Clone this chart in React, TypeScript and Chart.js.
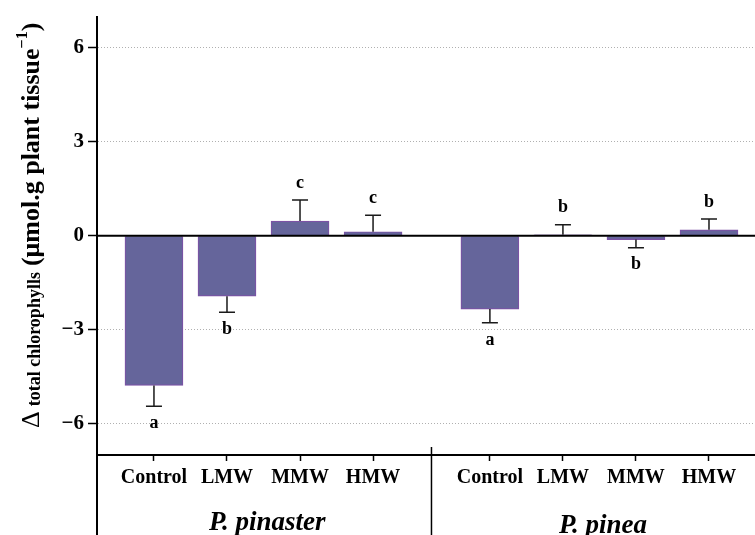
import React, { useEffect, useRef } from 'react';
import { Chart, registerables } from 'chart.js';

Chart.register(...registerables);

// ---- data ----
const categories = ['Control', 'LMW', 'MMW', 'HMW'];
const species = ['P. pinaster', 'P. pinea'];
const pinasterMeans = [-4.78, -1.93, 0.47, 0.13];
const pinasterErrors = [0.66, 0.51, 0.67, 0.53];
const pinasterLetters = ['a', 'b', 'c', 'c'];
const pineaMeans = [-2.34, 0.03, -0.12, 0.19];
const pineaErrors = [0.44, 0.32, 0.26, 0.35];
const pineaLetters = ['a', 'b', 'b', 'b'];
const yTicks = [-6, -3, 0, 3, 6];
const titleDelta = 'Δ';
const titleSub = 'total chlorophylls';
const titleMain = '(μmol.g plant tissue';
const titleSup = '−1';
const titleEnd = ')';

// ---- layout / style ----
const GROUP_STEP = 4.6;
const X_MIN = 0.22;
const X_MAX = 9.23;
const Y_MIN = -7;
const Y_MAX = 7;
const SERIF = '"Liberation Serif", "Times New Roman", serif';
const BAR_FILL = '#65659b';
const BAR_EDGE = '#7b52a5';

const groups = [
  { name: species[0], means: pinasterMeans, errors: pinasterErrors, letters: pinasterLetters },
  { name: species[1], means: pineaMeans, errors: pineaErrors, letters: pineaLetters },
];
const posOf = (g: number, i: number) => 1 + g * GROUP_STEP + i;
const tickPositions: number[] = [];
const tickNames: string[] = [];
groups.forEach((_, gi) =>
  categories.forEach((c, i) => {
    tickPositions.push(posOf(gi, i));
    tickNames.push(c);
  })
);

const fmt = (v: number) => (v < 0 ? '−' + Math.abs(v) : String(v));

const decor = {
  id: 'decor',
  afterDatasetsDraw(chart: any) {
    const { ctx, chartArea } = chart;
    const x = chart.scales.x;
    const y = chart.scales.y;
    ctx.save();
    // zero line
    const y0 = y.getPixelForValue(0);
    ctx.strokeStyle = '#000';
    ctx.lineWidth = 2;
    ctx.beginPath();
    ctx.moveTo(chartArea.left, y0);
    ctx.lineTo(chartArea.right, y0);
    ctx.stroke();
    // error bars + letters
    groups.forEach((g, gi) =>
      g.means.forEach((m, i) => {
        const px = x.getPixelForValue(posOf(gi, i));
        const dir = m >= 0 ? 1 : -1;
        const yBar = y.getPixelForValue(m);
        const yEnd = y.getPixelForValue(m + dir * g.errors[i]);
        ctx.strokeStyle = '#1a1a1a';
        ctx.lineWidth = 1.5;
        ctx.beginPath();
        ctx.moveTo(px, yBar);
        ctx.lineTo(px, yEnd);
        ctx.moveTo(px - 8, yEnd);
        ctx.lineTo(px + 8, yEnd);
        ctx.stroke();
        ctx.fillStyle = '#000';
        ctx.font = `bold 18px ${SERIF}`;
        ctx.textAlign = 'center';
        ctx.textBaseline = 'middle';
        ctx.fillText(g.letters[i], px, yEnd - dir * 17);
      })
    );
    ctx.restore();
  },
  afterDraw(chart: any) {
    const { ctx, chartArea } = chart;
    const x = chart.scales.x;
    ctx.save();
    ctx.strokeStyle = '#000';
    // y-axis extension below the x axis
    ctx.lineWidth = 2;
    ctx.beginPath();
    ctx.moveTo(chartArea.left, chartArea.bottom);
    ctx.lineTo(chartArea.left, 535);
    ctx.stroke();
    // group separator
    const sepX = x.getPixelForValue((posOf(0, 3) + posOf(1, 0)) / 2);
    ctx.lineWidth = 1.5;
    ctx.beginPath();
    ctx.moveTo(sepX, chartArea.bottom - 8);
    ctx.lineTo(sepX, 535);
    ctx.stroke();
    // species labels
    ctx.fillStyle = '#000';
    ctx.font = `italic bold 27px ${SERIF}`;
    ctx.textAlign = 'center';
    ctx.textBaseline = 'alphabetic';
    groups.forEach((g, gi) => {
      const cx = x.getPixelForValue(posOf(gi, 1.55));
      ctx.fillText(g.name, cx, gi === 0 ? 530 : 533);
    });
    // y title (rotated, mixed fonts), starting at the bottom
    const parts = [
      { text: titleDelta, font: `26px ${SERIF}`, dy: 0, gap: 5 },
      { text: titleSub, font: `bold 18px ${SERIF}`, dy: 1, gap: 6 },
      { text: titleMain, font: `bold 26px ${SERIF}`, dy: 0, gap: 0 },
      { text: titleSup, font: `bold 16px ${SERIF}`, dy: -12, gap: 0 },
      { text: titleEnd, font: `bold 26px ${SERIF}`, dy: 0, gap: 0 },
    ];
    ctx.translate(39, 428);
    ctx.rotate(-Math.PI / 2);
    ctx.textAlign = 'left';
    let u = 0;
    parts.forEach((p) => {
      ctx.font = p.font;
      ctx.fillText(p.text, u, p.dy);
      u += ctx.measureText(p.text).width + p.gap;
    });
    ctx.restore();
  },
};

export default function App() {
  const ref = useRef<HTMLCanvasElement | null>(null);
  useEffect(() => {
    if (!ref.current) return;
    const chart = new Chart(ref.current, {
      type: 'bar',
      data: {
        datasets: groups.map((g, gi) => ({
          label: g.name,
          data: g.means.map((m, i) => ({ x: posOf(gi, i), y: m })),
          backgroundColor: BAR_FILL,
          borderColor: BAR_EDGE,
          borderWidth: 1.2,
          barThickness: 58,
          grouped: false,
        })),
      },
      options: {
        animation: false,
        responsive: false,
        layout: { padding: { top: 14, left: 0, right: 0, bottom: 0 } },
        plugins: { legend: { display: false }, tooltip: { enabled: false } },
        scales: {
          x: {
            type: 'linear',
            offset: false,
            min: X_MIN,
            max: X_MAX,
            afterBuildTicks: (s: any) => {
              s.ticks = tickPositions.map((v) => ({ value: v }));
            },
            afterFit: (s: any) => {
              s.height = 80;
            },
            ticks: {
              autoSkip: false,
              maxRotation: 0,
              padding: 5,
              color: '#000',
              font: { family: SERIF, size: 20, weight: 'bold' },
              callback: (v: any) => {
                const k = tickPositions.findIndex((p) => Math.abs(p - v) < 1e-6);
                return k >= 0 ? tickNames[k] : '';
              },
            },
            grid: {
              offset: false,
              drawOnChartArea: false,
              drawTicks: true,
              tickLength: 6,
              tickColor: '#000',
              tickWidth: 1.5,
            },
            border: { display: true, width: 2, color: '#000' },
          },
          y: {
            min: Y_MIN,
            max: Y_MAX,
            afterBuildTicks: (s: any) => {
              s.ticks = yTicks.map((v) => ({ value: v }));
            },
            afterFit: (s: any) => {
              s.width = 97;
            },
            ticks: {
              padding: 4,
              color: '#000',
              font: { family: SERIF, size: 21, weight: 'bold' },
              callback: (v: any) => fmt(Number(v)),
            },
            grid: {
              drawOnChartArea: true,
              drawTicks: true,
              tickLength: 9,
              tickColor: '#000',
              tickWidth: 1.5,
              color: (c: any) => (c.tick && c.tick.value === 0 ? 'rgba(0,0,0,0)' : '#b0b0b0'),
              lineWidth: 1,
            },
            border: { display: true, width: 2, color: '#000', dash: [1, 2] },
          },
        },
      },
      plugins: [decor],
    } as any);
    return () => chart.destroy();
  }, []);
  return (
    <canvas
      ref={ref}
      width={755}
      height={535}
      style={{ position: 'absolute', left: 0, top: 0, width: 755, height: 535 }}
    />
  );
}
